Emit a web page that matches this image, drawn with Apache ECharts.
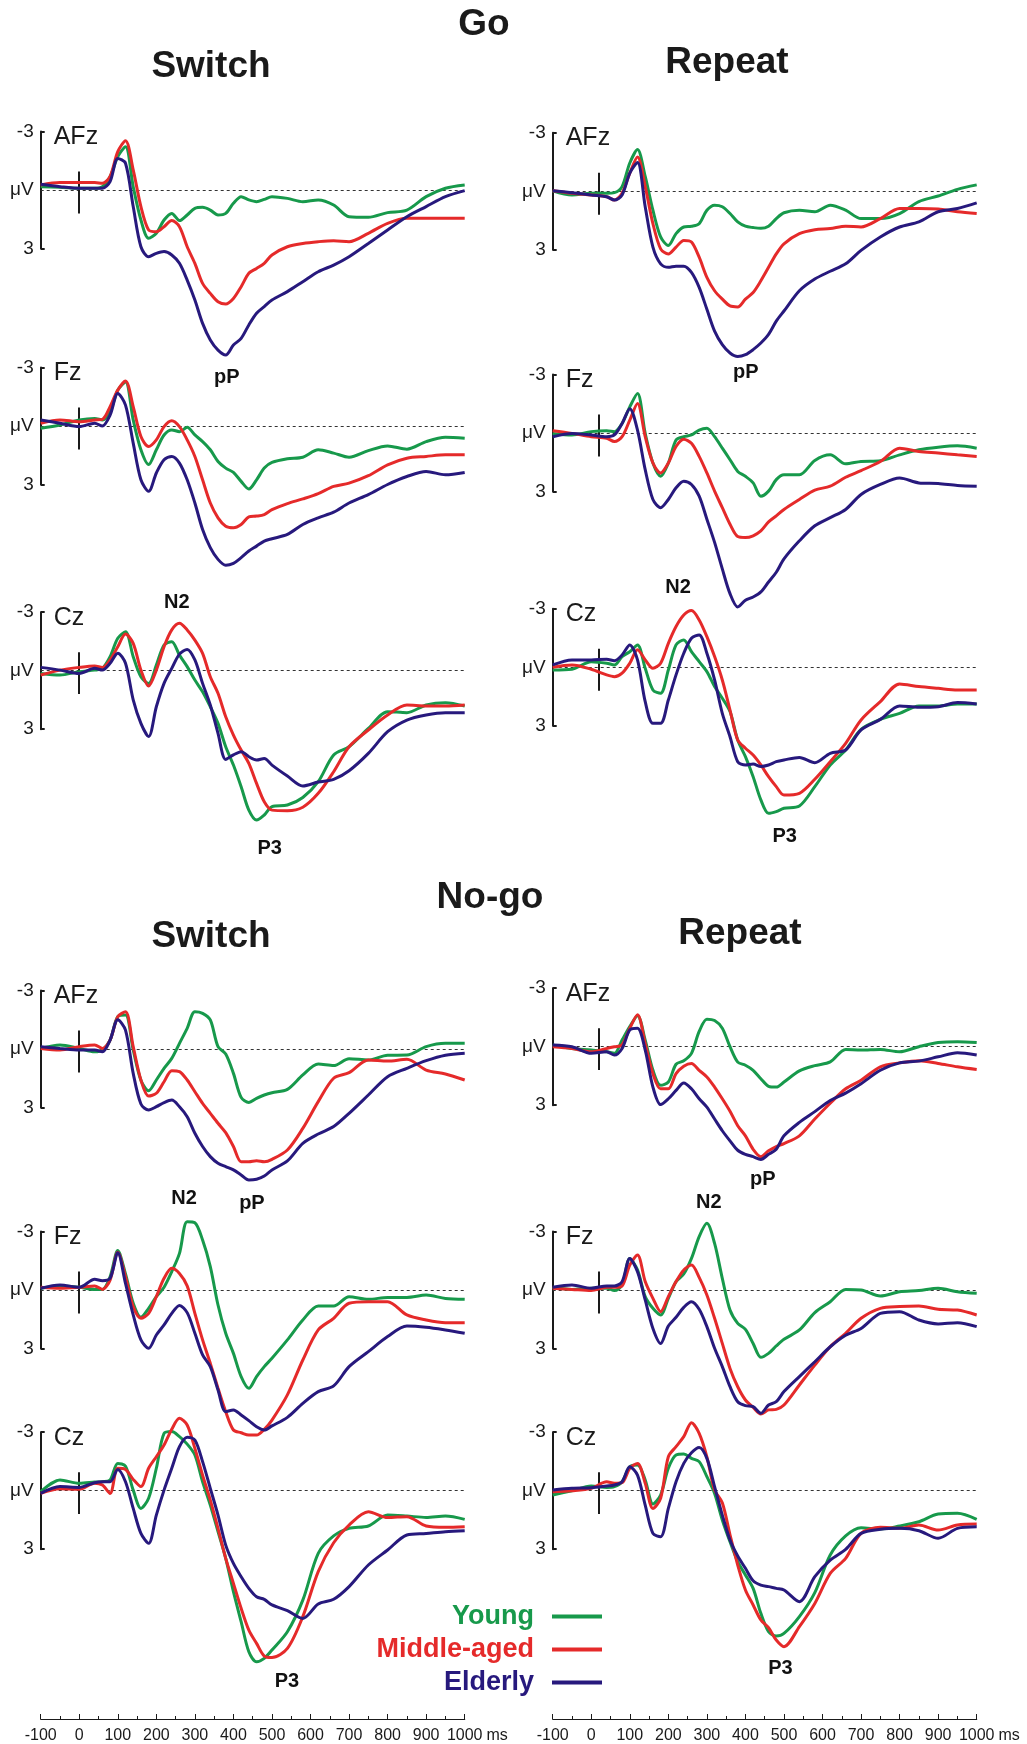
<!DOCTYPE html>
<html>
<head>
<meta charset="utf-8">
<script src="https://cdn.jsdelivr.net/npm/echarts@6/dist/echarts.min.js"></script>
<style>
html, body { margin: 0; padding: 0; background: #fff; }
#chart { width: 1027px; height: 1744px; }
</style>
</head>
<body>
<div id="chart"></div>
<script>
// sample times (ms)
const times = [-100, -50, 0, 40, 60, 80, 100, 120, 140, 160, 180, 200, 220, 240, 260, 280, 300, 320, 340, 360, 380,
  400, 420, 440, 460, 480, 500, 540, 580, 620, 660, 700, 750, 800, 850, 900, 950, 1000];

const groups = ['Young', 'Middle-aged', 'Elderly'];
const groupColors = ['#17994b', '#e52a2a', '#27197d'];

// µV values, one row per group: young, middle-aged, elderly
const goSwitchAFz = [
  [-0.17,-0.14,-0.09,-0.09,-0.17,-0.68,-1.71,-2.22,-0.17,1.54,2.48,2.22,1.54,1.2,1.57,1.28,0.94,0.89,1.03,1.28,1.2,0.68,0.34,0.51,0.6,0.48,0.34,0.43,0.6,0.51,0.77,1.37,1.4,1.16,1.03,0.34,-0.09,-0.26],
  [-0.26,-0.38,-0.38,-0.38,-0.34,-0.7,-1.97,-2.53,-1.03,0.85,2.05,2.14,1.88,1.57,1.88,2.91,3.76,4.79,5.3,5.73,5.85,5.56,4.96,4.27,4.02,3.76,3.33,2.91,2.74,2.65,2.6,2.65,2.22,1.71,1.45,1.45,1.45,1.45],
  [-0.29,-0.17,-0.09,-0.09,-0.09,-0.43,-1.62,-1.37,0.85,2.91,3.42,3.25,3.16,3.33,3.76,4.62,5.64,6.84,7.69,8.21,8.46,7.95,7.61,6.92,6.32,5.98,5.64,5.21,4.7,4.19,3.85,3.42,2.74,2.05,1.37,0.85,0.34,0.03]
];
const goRepeatAFz = [
  [-0.03,0.19,0.1,0.1,0.07,-0.24,-1.45,-2.14,-0.76,0.97,2.34,2.78,2.17,1.83,1.79,1.66,0.97,0.71,0.79,1.14,1.57,1.79,1.86,1.9,1.79,1.4,1.1,0.97,1.05,0.71,0.97,1.4,1.4,1.14,0.53,0.24,-0.1,-0.33],
  [-0.03,0.1,0.19,0.28,0.45,0.1,-0.93,-1.76,-0.24,1.66,2.95,3.21,2.86,2.52,2.6,3.38,4.41,5.1,5.53,5.88,5.93,5.53,5.19,4.59,3.9,3.21,2.69,2.17,1.97,1.91,1.79,1.83,1.4,0.88,0.88,0.91,1.05,1.14],
  [-0.03,0.07,0.19,0.28,0.45,0.19,-0.93,-1.48,0.79,2.86,3.72,3.9,3.84,3.84,4.16,4.93,6.05,7.17,7.86,8.29,8.47,8.38,8.12,7.78,7.34,6.66,6.14,5.1,4.5,4.1,3.72,3.03,2.34,1.83,1.57,1.05,0.88,0.59]
];
const goSwitchFz = [
  [0.12,-0.05,-0.31,-0.39,-0.31,-0.73,-1.84,-2.26,-0.31,1.22,1.98,1.22,0.46,0.2,0.29,0.07,0.46,0.8,1.22,1.82,2.16,2.38,2.84,3.23,2.76,2.16,1.87,1.68,1.6,1.22,1.39,1.6,1.26,1.02,1.19,0.8,0.58,0.63],
  [-0.14,-0.31,-0.22,-0.31,-0.34,-0.99,-1.84,-2.31,-0.99,0.54,1.05,0.71,0.03,-0.27,0.03,0.71,1.56,2.76,3.95,4.71,5.14,5.22,5.05,4.66,4.62,4.54,4.29,3.98,3.74,3.47,3.1,2.93,2.55,1.99,1.65,1.56,1.48,1.48],
  [-0.31,-0.14,0.03,-0.14,0,-0.56,-1.67,-1.07,0.88,2.76,3.35,2.41,1.73,1.56,1.9,2.76,3.95,5.31,6.24,6.84,7.14,7.04,6.75,6.41,6.16,5.9,5.78,5.56,5.05,4.71,4.42,3.95,3.52,3.0,2.59,2.33,2.5,2.38]
];
const goRepeatFz = [
  [0.02,0.1,-0.07,-0.12,-0.07,-0.49,-1.34,-2.02,0.02,1.54,2.22,1.54,0.36,0.19,0.1,-0.15,-0.24,0.19,0.78,1.37,1.97,2.22,2.56,3.24,2.98,2.39,2.14,2.14,1.41,1.12,1.58,1.46,1.42,1.12,0.86,0.73,0.66,0.78],
  [-0.12,0.02,0.19,0.27,0.44,0.19,-0.66,-1.51,0.19,1.54,2.05,1.54,0.69,0.32,0.53,1.2,2.05,2.98,3.83,4.68,5.31,5.36,5.27,5.02,4.56,4.25,3.92,3.41,2.93,2.73,2.27,1.93,1.46,0.78,0.95,1.03,1.12,1.2],
  [0.19,0.02,0.1,0.19,0.1,-0.49,-1.25,-0.15,1.88,3.41,3.83,3.41,2.81,2.47,2.64,3.24,4.42,5.61,6.97,8.24,8.92,8.58,8.41,8.15,7.64,7.14,6.46,5.53,4.76,4.34,3.92,3.15,2.64,2.31,2.56,2.59,2.69,2.73]
];
const goSwitchCz = [
  [0.14,0.22,0.05,-0.03,-0.12,-0.72,-1.66,-2.0,-0.72,0.31,0.65,-0.29,-1.32,-1.49,-0.8,-0.21,0.48,1.08,1.85,2.7,3.9,4.84,5.95,7.15,7.66,7.4,6.97,6.89,6.5,5.69,4.32,3.9,2.96,2.1,2.15,1.76,1.64,1.81],
  [0.22,-0.03,-0.17,-0.24,-0.17,-0.55,-1.23,-1.88,-1.4,-0.03,0.79,-0.03,-1.23,-2.09,-2.43,-2.09,-1.57,-0.89,0.31,1.16,2.36,3.3,4.07,4.75,5.78,6.72,7.15,7.18,7.0,6.29,5.18,3.9,3.04,2.27,1.76,1.81,1.81,1.76],
  [-0.17,-0.03,0.14,-0.12,-0.03,-0.38,-0.9,-0.38,1.5,2.7,3.38,1.85,0.65,-0.12,-0.85,-1.09,-0.55,0.65,1.76,3.21,4.55,4.32,4.15,4.41,4.58,4.5,4.84,5.4,5.91,5.71,5.57,5.13,4.24,3.13,2.53,2.27,2.15,2.15]
];
const goRepeatCz = [
  [0.14,0.1,-0.29,-0.21,-0.12,-0.55,-0.8,-1.15,0.05,1.16,1.33,0.14,-1.15,-1.4,-0.8,-0.29,0.22,0.99,1.59,2.27,3.73,4.58,5.61,6.8,7.49,7.4,7.23,7.11,6.12,5.01,4.24,3.18,2.67,2.36,1.98,1.98,1.88,1.88],
  [0,-0.12,0.1,0.39,0.48,0.3,-0.21,-0.9,-0.38,0.05,-0.21,-1.23,-2.09,-2.68,-2.91,-2.43,-1.57,-0.55,0.65,2.19,3.73,4.15,4.5,5.01,5.61,6.12,6.55,6.46,5.74,4.84,3.9,2.7,1.76,0.85,0.99,1.08,1.16,1.16],
  [-0.12,-0.38,-0.38,-0.41,-0.34,-0.63,-1.15,-0.38,1.76,2.87,2.87,1.68,0.39,-0.72,-1.49,-1.66,-0.72,0.65,2.36,3.56,4.84,5.01,4.96,5.09,5.01,4.84,4.75,4.62,4.89,4.41,4.24,3.21,2.67,1.98,2.05,2.02,1.81,1.88]
];
const nogoSwitchAFz = [
  [-0.03,-0.21,-0.03,0.14,0.05,-0.46,-1.66,-1.74,0.05,1.6,2.14,1.59,0.99,0.48,-0.29,-1.06,-1.91,-1.83,-1.49,-0.12,0.26,1.25,2.48,2.74,2.53,2.36,2.24,2.07,1.33,0.77,0.85,0.5,0.56,0.32,0.31,-0.12,-0.29,-0.29],
  [-0.03,0.05,-0.12,-0.21,-0.03,-0.46,-1.66,-1.91,-0.12,1.59,2.41,2.27,1.68,1.11,1.16,1.59,2.19,2.79,3.3,3.81,4.29,5.0,5.78,5.78,5.73,5.78,5.66,5.18,4.07,2.7,1.5,1.21,0.56,0.62,0.53,1.08,1.28,1.59],
  [-0.12,-0.03,0.05,0.05,0.14,-0.46,-1.5,-0.97,1.25,2.82,3.13,2.96,2.75,2.62,2.96,3.47,4.32,5.0,5.52,5.86,6.03,6.2,6.46,6.72,6.68,6.51,6.2,5.74,4.84,4.36,3.98,3.3,2.36,1.42,0.99,0.6,0.32,0.22]
];
const nogoRepeatAFz = [
  [-0.09,0.09,0.17,0.26,0.34,-0.34,-1.03,-1.59,-0.34,1.2,1.98,1.81,0.9,0.72,0.34,-0.78,-1.41,-1.34,-0.95,0,0.79,0.95,1.21,1.64,2.03,2.07,1.81,1.24,0.97,0.78,0.14,0.17,0.14,0.26,0,-0.21,-0.26,-0.21],
  [0,0.09,0.26,0.09,0,-0.09,-0.95,-1.64,-0.17,1.38,2.16,2.16,1.38,1.0,0.86,1.21,1.55,2.07,2.67,3.31,4.05,4.57,5.26,5.64,5.34,5.12,4.97,4.57,3.71,2.9,2.16,1.72,1.03,0.83,0.72,0.86,1.03,1.17],
  [-0.09,0,0.34,0.26,0.43,0.09,-0.86,-0.95,0.17,2.07,2.97,2.67,2.24,1.86,2.16,2.67,3.1,3.71,4.31,4.83,5.31,5.52,5.64,5.78,5.52,5.26,4.57,3.88,3.33,2.76,2.38,1.9,1.21,0.83,0.74,0.52,0.31,0.43]
];
const nogoSwitchFz = [
  [-0.09,-0.21,-0.14,-0.03,-0.03,-0.68,-2.02,-0.82,0.68,1.4,0.94,0.34,-0.14,-0.94,-1.88,-3.5,-3.45,-2.56,-1.2,0.77,2.22,3.25,4.44,5.04,4.44,3.93,3.5,2.56,1.54,0.82,0.82,0.34,0.48,0.38,0.38,0.26,0.43,0.48],
  [-0.14,-0.09,-0.14,-0.21,-0.03,-0.51,-1.93,-0.68,0.85,1.45,1.2,0.34,-0.6,-1.11,-0.85,-0.21,1.2,2.56,3.76,5.04,6.24,7.18,7.32,7.44,7.44,7.15,6.67,5.38,3.59,2.05,1.45,0.68,0.6,0.6,1.28,1.54,1.68,1.68],
  [-0.09,-0.26,-0.14,-0.55,-0.48,-0.6,-1.91,-0.34,1.28,2.56,2.99,2.31,1.79,1.2,0.79,1.16,2.22,3.33,3.93,5.13,6.24,6.15,6.41,6.7,7.01,7.18,6.97,6.53,5.81,5.21,4.92,3.93,3.16,2.39,1.85,1.91,2.05,2.22]
];
const nogoRepeatFz = [
  [-0.14,-0.03,-0.09,-0.09,0.03,-0.26,-1.62,-1.03,0.34,0.94,1.28,0.43,-0.43,-0.82,-1.62,-2.74,-3.42,-2.39,-0.6,1.03,1.71,2.02,2.74,3.45,3.25,2.87,2.53,2.05,1.16,0.6,-0.03,0,0.31,0.09,0.03,-0.09,0.09,0.17],
  [-0.09,-0.03,0.03,-0.14,-0.14,-0.21,-1.28,-1.79,-0.43,0.43,1.11,0.34,-0.43,-1.03,-1.28,-0.65,0.26,1.45,2.74,4.02,4.96,5.64,6.02,6.36,6.15,6.12,5.9,4.87,3.85,2.91,2.22,1.45,0.94,0.85,0.82,0.99,1.03,1.28],
  [-0.14,-0.26,-0.09,-0.21,-0.21,-0.43,-1.62,-0.94,0.51,1.97,2.74,1.85,1.4,0.89,0.6,0.99,1.88,2.99,3.93,4.96,5.73,5.93,5.98,6.32,5.9,5.73,5.21,4.44,3.68,2.91,2.32,1.97,1.2,1.11,1.54,1.74,1.68,1.88]
];
const nogoSwitchCz = [
  [0.05,-0.55,-0.38,-0.44,-0.46,-0.55,-1.4,-1.26,-0.03,0.91,0.39,-1.15,-2.94,-3.03,-2.77,-2.39,-1.83,-0.46,0.74,2.1,3.47,5.18,6.72,8.26,8.77,8.6,8.17,7.23,5.61,3.21,2.32,1.93,1.81,1.25,1.3,1.37,1.3,1.47],
  [0.14,-0.1,-0.07,-0.38,-0.29,0.14,-1.15,-1.09,-0.58,-0.21,-1.15,-1.74,-2.34,-3.15,-3.71,-3.37,-2.17,-0.8,0.48,1.93,3.47,4.75,6.03,7.15,7.83,8.48,8.56,8.09,6.46,4.15,2.67,1.76,1.08,1.38,1.33,1.81,1.88,1.85],
  [0.14,-0.21,-0.17,-0.41,-0.46,-0.46,-1.09,-0.46,0.91,2.19,2.7,1.25,-0.03,-1.15,-2.26,-2.74,-2.6,-1.49,-0.12,1.25,2.79,3.73,4.41,5.01,5.44,5.57,5.86,6.15,6.55,5.81,5.57,4.92,3.81,3.04,2.27,2.19,2.1,2.05]
];
const nogoRepeatCz = [
  [0.22,0,-0.24,-0.17,-0.21,-0.46,-1.23,-1.32,-0.55,0.68,0.22,-1.15,-1.83,-1.88,-1.66,-1.49,-0.72,0.14,1.5,2.62,3.64,4.32,5.01,6.29,7.23,7.45,7.32,6.46,5.23,3.3,2.32,1.9,1.97,1.81,1.59,1.2,1.16,1.47],
  [0.05,0,-0.12,-0.46,-0.38,-0.41,-1.15,-1.4,-0.38,0.91,0.39,-1.74,-2.26,-2.77,-3.49,-2.94,-1.74,-0.03,0.62,2.26,3.81,5.09,5.86,6.63,7.03,7.66,8.0,6.97,5.78,4.24,3.47,2.19,1.88,1.93,1.76,2.02,1.76,1.71],
  [-0.03,-0.12,-0.15,-0.24,-0.29,-0.46,-1.23,-0.8,0.74,2.19,2.36,0.91,-0.46,-1.4,-1.95,-2.22,-1.66,-0.21,1.25,2.53,3.35,3.98,4.62,4.84,4.92,5.01,5.09,5.69,4.41,3.56,3.01,2.19,1.98,1.93,2.05,2.44,1.93,1.85]
];

// rows: Go AFz, Go Fz, Go Cz, No-go AFz, No-go Fz, No-go Cz; cols: Switch, Repeat
const panelData = [
  [goSwitchAFz, goRepeatAFz],
  [goSwitchFz, goRepeatFz],
  [goSwitchCz, goRepeatCz],
  [nogoSwitchAFz, nogoRepeatAFz],
  [nogoSwitchFz, nogoRepeatFz],
  [nogoSwitchCz, nogoRepeatCz]
];
const sites = ['AFz', 'Fz', 'Cz', 'AFz', 'Fz', 'Cz'];
const yTickLabels = ['-3', 'μV', '3'];
const xTicks = [-100, 1000, 100];

// component names: [row, col, text, ms, µV]
const peakLabels = [
  [0, 0, 'pP', 383, 9.6], [0, 1, 'pP', 401, 9.3],
  [2, 0, 'N2', 253, -3.5], [2, 0, 'P3', 494, 9.1],
  [2, 1, 'N2', 225, -4.1], [2, 1, 'P3', 502, 8.7],
  [3, 0, 'pP', 448, 7.9], [4, 0, 'N2', 272, -4.7],
  [3, 1, 'pP', 445, 6.8], [4, 1, 'N2', 305, -4.5],
  [5, 0, 'P3', 539, 9.8], [5, 1, 'P3', 491, 9.1]
];

// ---- layout (pixels) ----
const colX = [40.7, 552.7];
const rowZero = [[190, 191.3], [426, 433], [670.7, 667.3], [1049, 1046.7], [1290, 1290], [1490.7, 1490.7]];
const plotW = 424;
const pxPerUV = 19.5;
const stimMs = [0, 20];
const headings = [
  ['Go', 484, 25], ['Switch', 211, 67], ['Repeat', 727, 63],
  ['No-go', 490, 898], ['Switch', 211, 937], ['Repeat', 740, 934]
];
const FONT = 'Liberation Sans, Arial, Helvetica, sans-serif';
const NARROW = '"Liberation Sans Narrow", "Arial Narrow", "Liberation Sans", Arial, sans-serif';
const INK = '#1a1a1a';

const grid = [], xAxis = [], yAxis = [], series = [], graphic = [];
const panelIndex = {};
let gi = 0;

rowZero.forEach((zs, r) => {
  zs.forEach((z, c) => {
    panelIndex[r + '_' + c] = gi;
    grid.push({ left: colX[c], top: z - 3 * pxPerUV, width: plotW, height: 6 * pxPerUV });
    xAxis.push({ gridIndex: gi, type: 'value', min: -100, max: 1000, show: false });
    yAxis.push({
      gridIndex: gi, type: 'value', inverse: true, min: -3, max: 3, interval: 3,
      axisLine: { show: true, onZero: false, lineStyle: { color: INK, width: 2 } },
      axisTick: { show: true, inside: true, length: 4, customValues: [-3, 3], lineStyle: { color: INK, width: 2 } },
      axisLabel: {
        show: true, customValues: [-3, 0, 3], margin: 7, color: INK, fontSize: 19, fontFamily: FONT,
        formatter: v => yTickLabels[(v + 3) / 3]
      },
      splitLine: { show: false }
    });
    panelData[r][c].forEach((vals, k) => {
      const s = {
        type: 'line', name: groups[k], xAxisIndex: gi, yAxisIndex: gi,
        data: times.map((t, i) => [t, vals[i]]),
        showSymbol: false, smooth: 0.3, clip: false, silent: true, z: 3 + k,
        lineStyle: { color: groupColors[k], width: 3 },
        itemStyle: { color: groupColors[k] }
      };
      if (k === 0) {
        s.markLine = {
          silent: true, symbol: ['none', 'none'], label: { show: false }, z: 1,
          data: [
            { yAxis: 0, lineStyle: { type: [3, 3], color: '#333', width: 1 } },
            [{ coord: [stimMs[c], -0.95], lineStyle: { type: 'solid', color: INK, width: 2 } },
             { coord: [stimMs[c], 1.2] }]
          ]
        };
      }
      series.push(s);
    });
    graphic.push({
      type: 'text', x: colX[c] + 13, y: z - 53, silent: true,
      style: { text: sites[r], fill: INK, font: '25px ' + FONT, align: 'left', verticalAlign: 'middle' }
    });
    gi++;
  });
});

peakLabels.forEach(([r, c, text, t, v]) => {
  const idx = panelIndex[r + '_' + c];
  series.push({
    type: 'scatter', xAxisIndex: idx, yAxisIndex: idx, symbolSize: 0, clip: false, silent: true, z: 10,
    data: [{ value: [t, v], name: text }],
    itemStyle: { opacity: 1 },
    label: {
      show: true, position: 'inside', formatter: '{b}', fontSize: 20, fontWeight: 'bold',
      color: '#111', textBorderWidth: 0, opacity: 1, fontFamily: FONT
    }
  });
});

// shared time axes at the bottom
colX.forEach(x => {
  grid.push({ left: x, top: 1718, width: plotW, height: 1 });
  xAxis.push({
    gridIndex: gi, type: 'value', min: xTicks[0], max: xTicks[1], interval: xTicks[2], position: 'bottom',
    axisLine: { show: true, onZero: false, lineStyle: { color: INK, width: 1.2 } },
    axisTick: { show: true, inside: true, length: 5, lineStyle: { color: INK, width: 1 } },
    minorTick: { show: true, splitNumber: 2, length: 3, lineStyle: { color: INK, width: 1 } },
    axisLabel: {
      show: true, margin: 9, color: INK, fontSize: 16, fontFamily: NARROW, showMinLabel: true, showMaxLabel: true,
      formatter: v => String(v)
    },
    splitLine: { show: false },
    name: 'ms', nameLocation: 'end', nameGap: 21,
    nameTextStyle: { color: INK, fontSize: 16, fontFamily: NARROW, verticalAlign: 'top', padding: [9, 0, 0, 0] }
  });
  yAxis.push({ gridIndex: gi, type: 'value', show: false });
  gi++;
});

headings.forEach(([text, x, y]) => {
  graphic.push({
    type: 'text', x, y, silent: true,
    style: { text, fill: INK, font: 'bold 37px ' + FONT, align: 'center', verticalAlign: 'middle' }
  });
});

const chart = echarts.init(document.getElementById('chart'));
chart.setOption({
  animation: false,
  backgroundColor: '#fff',
  grid, xAxis, yAxis, series, graphic,
  legend: {
    data: groups.map((g, k) => ({ name: g, textStyle: { color: groupColors[k] } })),
    orient: 'vertical', right: 425, top: 1603, align: 'right',
    icon: 'rect', itemWidth: 50, itemHeight: 4, itemGap: 6, padding: 0, selectedMode: false,
    textStyle: { fontSize: 27, fontWeight: 'bold', fontFamily: FONT, padding: [0, 13, 0, 0] }
  }
});
</script>
</body>
</html>
